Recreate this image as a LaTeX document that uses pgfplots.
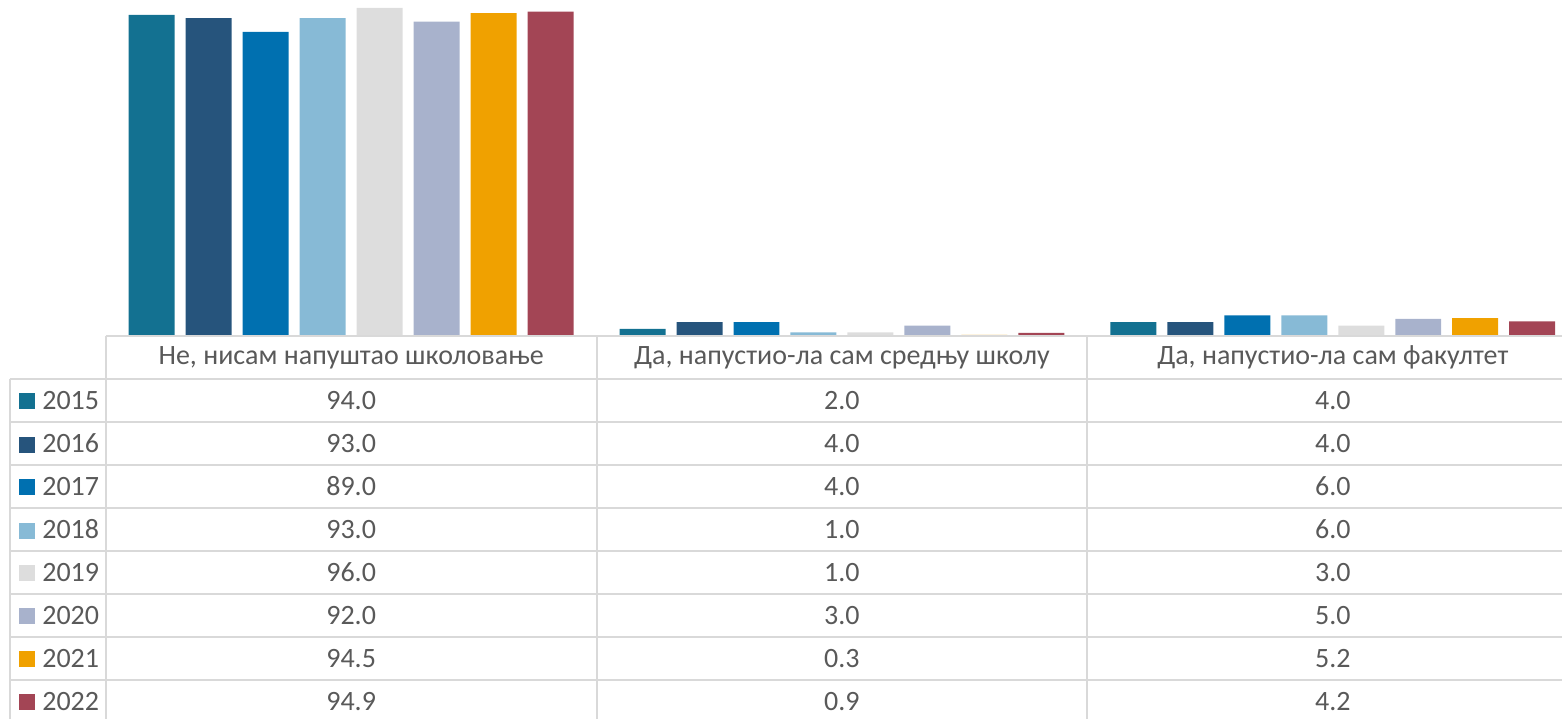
\documentclass[border=0pt]{standalone}
\usepackage{fontspec}
\setmainfont{Carlito}
\usepackage{pgfplots}
\usepackage{pgfplotstable}
\pgfplotsset{compat=1.18}

\definecolor{c2015}{HTML}{137191}
\definecolor{c2016}{HTML}{26547C}
\definecolor{c2017}{HTML}{0070B0}
\definecolor{c2018}{HTML}{87BAD6}
\definecolor{c2019}{HTML}{DDDDDD}
\definecolor{c2020}{HTML}{A8B2CC}
\definecolor{c2021}{HTML}{F0A100}
\definecolor{c2022}{HTML}{A34555}
\definecolor{txt}{HTML}{595959}
\definecolor{gridc}{HTML}{D9D9D9}

% x = category position, one column per year
\pgfplotstableread{
x    y2015 y2016 y2017 y2018 y2019 y2020 y2021 y2022
0.5  94.0  93.0  89.0  93.0  96.0  92.0  94.5  94.9
1.5  2.0   4.0   4.0   1.0   1.0   3.0   0.3   0.9
2.5  4.0   4.0   6.0   6.0   3.0   5.0   5.2   4.2
}\data

\newcommand{\tfont}{\fontsize{14}{17}\selectfont}

\begin{document}
\begin{tikzpicture}
% bars
\begin{axis}[
    name=bars,
    scale only axis, width=728.5pt, height=168pt,
    xmin=0, xmax=2.967, ymin=0, ymax=98.33,
    axis lines=none, ticks=none,
    ybar, bar width=23pt,
    every axis plot/.append style={draw=none},
]
\path (rel axis cs:0,0) rectangle (rel axis cs:1,1);
\addplot[fill=c2015, bar shift=-99.75pt] table[x=x, y=y2015]{\data};
\addplot[fill=c2016, bar shift=-71.25pt] table[x=x, y=y2016]{\data};
\addplot[fill=c2017, bar shift=-42.75pt] table[x=x, y=y2017]{\data};
\addplot[fill=c2018, bar shift=-14.25pt] table[x=x, y=y2018]{\data};
\addplot[fill=c2019, bar shift=14.25pt]  table[x=x, y=y2019]{\data};
\addplot[fill=c2020, bar shift=42.75pt]  table[x=x, y=y2020]{\data};
\addplot[fill=c2021, bar shift=71.25pt]  table[x=x, y=y2021]{\data};
\addplot[fill=c2022, bar shift=99.75pt]  table[x=x, y=y2022]{\data};
\end{axis}

% data table
\begin{axis}[
    at={(bars.south west)}, anchor=north west,
    scale only axis, width=728.5pt, height=191.5pt,
    xmin=0, xmax=2.967, ymin=0, ymax=8.907, y dir=reverse,
    axis lines=none, ticks=none, clip=false,
    every axis plot/.append style={only marks, mark=*, mark size=0pt,
        mark options={draw=none, fill=none}},
    nodes near coords={\pgfmathprintnumber[fixed, fixed zerofill,
        precision=1, assume math mode=true]{\pgfplotspointmeta}},
    every node near coord/.append style={anchor=center, font=\tfont, text=txt},
    point meta=explicit,
]
\path (axis cs:-0.2154,0) rectangle (axis cs:2.967,8.907);
% grid
\draw[gridc, line width=1pt] (axis cs:0,0) -- (axis cs:2.967,0);
\pgfplotsinvokeforeach{1,...,8}{
  \draw[gridc, line width=1pt] (axis cs:-0.196,#1) -- (axis cs:2.967,#1);
}
\draw[gridc, line width=1pt] (axis cs:-0.196,1) -- (axis cs:-0.196,8.907);
\pgfplotsinvokeforeach{0,1,2}{
  \draw[gridc, line width=1pt] (axis cs:#1,0) -- (axis cs:#1,8.907);
}
% headers
\node[font=\tfont, text=txt] at (axis cs:0.5,0.5) {Не, нисам напуштао школовање};
\node[font=\tfont, text=txt] at (axis cs:1.5,0.5) {Да, напустио-ла сам средњу школу};
\node[font=\tfont, text=txt] at (axis cs:2.5,0.5) {Да, напустио-ла сам факултет};
% legend column
\node[font=\tfont, text=txt, anchor=west, inner sep=0pt] at (axis cs:-0.1768,1.5) {\textcolor{c2015}{\rule{8pt}{8pt}}\hspace{3.5pt}2015};
\node[font=\tfont, text=txt, anchor=west, inner sep=0pt] at (axis cs:-0.1768,2.5) {\textcolor{c2016}{\rule{8pt}{8pt}}\hspace{3.5pt}2016};
\node[font=\tfont, text=txt, anchor=west, inner sep=0pt] at (axis cs:-0.1768,3.5) {\textcolor{c2017}{\rule{8pt}{8pt}}\hspace{3.5pt}2017};
\node[font=\tfont, text=txt, anchor=west, inner sep=0pt] at (axis cs:-0.1768,4.5) {\textcolor{c2018}{\rule{8pt}{8pt}}\hspace{3.5pt}2018};
\node[font=\tfont, text=txt, anchor=west, inner sep=0pt] at (axis cs:-0.1768,5.5) {\textcolor{c2019}{\rule{8pt}{8pt}}\hspace{3.5pt}2019};
\node[font=\tfont, text=txt, anchor=west, inner sep=0pt] at (axis cs:-0.1768,6.5) {\textcolor{c2020}{\rule{8pt}{8pt}}\hspace{3.5pt}2020};
\node[font=\tfont, text=txt, anchor=west, inner sep=0pt] at (axis cs:-0.1768,7.5) {\textcolor{c2021}{\rule{8pt}{8pt}}\hspace{3.5pt}2021};
\node[font=\tfont, text=txt, anchor=west, inner sep=0pt] at (axis cs:-0.1768,8.5) {\textcolor{c2022}{\rule{8pt}{8pt}}\hspace{3.5pt}2022};
% values
\addplot table[x=x, y expr=1.5, meta=y2015]{\data};
\addplot table[x=x, y expr=2.5, meta=y2016]{\data};
\addplot table[x=x, y expr=3.5, meta=y2017]{\data};
\addplot table[x=x, y expr=4.5, meta=y2018]{\data};
\addplot table[x=x, y expr=5.5, meta=y2019]{\data};
\addplot table[x=x, y expr=6.5, meta=y2020]{\data};
\addplot table[x=x, y expr=7.5, meta=y2021]{\data};
\addplot table[x=x, y expr=8.5, meta=y2022]{\data};
\end{axis}
\end{tikzpicture}
\end{document}
